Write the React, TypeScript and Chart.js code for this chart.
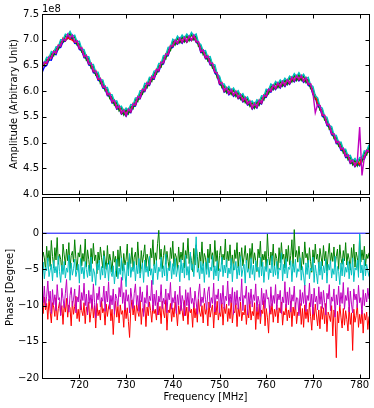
import React, { useEffect, useRef } from "react";
import { Chart, registerables } from "chart.js";

Chart.register(...registerables);

// Sample grids (MHz)
const FREQ_START = 712;
const AMP_STEP = 0.5;
const AMP_COUNT = 141;
const PHASE_STEP = 0.25;
const PHASE_COUNT = 281;
const freqAmp = Array.from({ length: AMP_COUNT }, (_, i) => FREQ_START + i * AMP_STEP);
const freqPhase = Array.from({ length: PHASE_COUNT }, (_, i) => FREQ_START + i * PHASE_STEP);
const freqEnds = [712, 782];

const xTickValues = [720, 730, 740, 750, 760, 770, 780];
const ampTickValues = [4.0, 4.5, 5.0, 5.5, 6.0, 6.5, 7.0, 7.5];
const phaseTickValues = [-20, -15, -10, -5, 0, 5];
const phaseTickLabels = ["\u221220", "\u221215", "\u221210", "\u22125", "0", ""];

// Amplitude (units of 1e8), 0.5 MHz steps
const ampBlue = [
  6.36, 6.47, 6.50, 6.61, 6.60, 6.72, 6.71, 6.84, 6.85, 6.96,
  6.97, 7.06, 7.01, 7.04, 6.93, 6.92, 6.81, 6.79, 6.65, 6.64,
  6.51, 6.49, 6.36, 6.34, 6.21, 6.19, 6.06, 6.04, 5.91, 5.90,
  5.77, 5.77, 5.65, 5.66, 5.55, 5.58, 5.51, 5.60, 5.58, 5.70,
  5.71, 5.84, 5.85, 5.98, 5.99, 6.11, 6.11, 6.23, 6.23, 6.37,
  6.38, 6.51, 6.53, 6.67, 6.69, 6.83, 6.85, 6.94, 6.91, 6.98,
  6.93, 7.00, 6.95, 7.02, 6.98, 7.04, 6.95, 6.91, 6.75, 6.75,
  6.63, 6.63, 6.51, 6.49, 6.35, 6.30, 6.13, 6.11, 5.98, 6.01,
  5.93, 5.98, 5.90, 5.94, 5.85, 5.88, 5.79, 5.82, 5.73, 5.75,
  5.65, 5.71, 5.67, 5.77, 5.75, 5.87, 5.88, 5.99, 5.98, 6.07,
  6.03, 6.11, 6.06, 6.14, 6.09, 6.17, 6.13, 6.22, 6.18, 6.25,
  6.20, 6.25, 6.17, 6.21, 6.11, 6.09, 5.93, 5.88, 5.71, 5.67,
  5.51, 5.48, 5.33, 5.30, 5.15, 5.12, 4.98, 4.97, 4.85, 4.84,
  4.71, 4.71, 4.59, 4.61, 4.53, 4.59, 4.55, 4.67, 4.68, 4.80,
  4.82,
];
const ampGreen = [
  6.52, 6.50, 6.62, 6.60, 6.73, 6.69, 6.84, 6.81, 6.97, 6.95,
  7.08, 7.02, 7.13, 7.01, 7.06, 6.90, 6.93, 6.76, 6.78, 6.60,
  6.64, 6.45, 6.49, 6.31, 6.34, 6.15, 6.19, 6.01, 6.04, 5.86,
  5.90, 5.73, 5.78, 5.62, 5.68, 5.54, 5.64, 5.56, 5.71, 5.66,
  5.84, 5.80, 5.98, 5.94, 6.12, 6.07, 6.24, 6.19, 6.36, 6.33,
  6.51, 6.47, 6.66, 6.63, 6.82, 6.79, 6.98, 6.90, 7.04, 6.94,
  7.06, 6.96, 7.08, 6.98, 7.11, 7.00, 7.08, 6.87, 6.88, 6.71,
  6.76, 6.59, 6.64, 6.45, 6.48, 6.26, 6.26, 6.07, 6.11, 5.97,
  6.06, 5.94, 6.03, 5.90, 5.98, 5.84, 5.92, 5.78, 5.86, 5.71,
  5.78, 5.67, 5.80, 5.73, 5.88, 5.83, 6.01, 5.95, 6.11, 6.03,
  6.16, 6.07, 6.19, 6.10, 6.22, 6.13, 6.26, 6.18, 6.31, 6.21,
  6.33, 6.21, 6.30, 6.17, 6.24, 6.05, 6.06, 5.84, 5.84, 5.63,
  5.64, 5.44, 5.46, 5.26, 5.28, 5.08, 5.11, 4.93, 4.98, 4.80,
  4.84, 4.67, 4.72, 4.57, 4.66, 4.55, 4.68, 4.63, 4.81, 4.76,
  4.93,
];
const ampRed = [
  6.44, 6.55, 6.54, 6.67, 6.64, 6.78, 6.74, 6.90, 6.88, 7.03,
  6.98, 7.04, 7.01, 6.99, 6.95, 6.97, 6.83, 6.85, 6.67, 6.70,
  6.53, 6.55, 6.38, 6.40, 6.23, 6.25, 6.08, 6.10, 5.93, 5.96,
  5.79, 5.83, 5.67, 5.72, 5.57, 5.64, 5.53, 5.66, 5.60, 5.76,
  5.73, 5.90, 5.87, 6.04, 6.01, 6.17, 6.13, 6.29, 6.25, 6.43,
  6.40, 6.57, 6.55, 6.73, 6.71, 6.89, 6.87, 6.99, 6.93, 7.03,
  6.95, 7.05, 6.96, 7.07, 6.99, 7.08, 6.96, 6.96, 6.77, 6.80,
  6.65, 6.69, 6.53, 6.55, 6.37, 6.36, 6.15, 6.17, 6.00, 6.07,
  5.95, 6.03, 5.92, 6.00, 5.87, 5.94, 5.81, 5.88, 5.75, 5.81,
  5.67, 5.77, 5.69, 5.83, 5.77, 5.93, 5.90, 6.04, 6.00, 6.12,
  6.05, 6.16, 6.08, 6.19, 6.11, 6.22, 6.15, 6.27, 6.20, 6.30,
  6.22, 6.30, 6.19, 6.26, 6.13, 6.14, 5.95, 5.93, 5.73, 5.72,
  5.53, 5.53, 5.35, 5.35, 5.17, 5.17, 5.00, 5.02, 4.87, 4.89,
  4.73, 4.76, 4.61, 4.66, 4.55, 4.64, 4.57, 4.72, 4.70, 4.85,
  4.82,
];
const ampCyan = [
  6.57, 6.55, 6.66, 6.65, 6.77, 6.75, 6.86, 6.87, 7.00, 7.00,
  7.11, 7.09, 7.16, 7.07, 7.09, 6.96, 6.97, 6.82, 6.81, 6.67,
  6.67, 6.52, 6.52, 6.37, 6.37, 6.22, 6.22, 6.07, 6.07, 5.93,
  5.93, 5.80, 5.81, 5.69, 5.71, 5.61, 5.67, 5.63, 5.74, 5.73,
  5.87, 5.87, 6.01, 6.01, 6.15, 6.14, 6.27, 6.26, 6.39, 6.40,
  6.54, 6.54, 6.69, 6.70, 6.85, 6.86, 7.01, 6.97, 7.07, 7.01,
  7.09, 7.03, 7.11, 7.05, 7.14, 7.07, 7.11, 6.94, 6.91, 6.78,
  6.79, 6.66, 6.67, 6.52, 6.51, 6.33, 6.29, 6.14, 6.14, 6.04,
  6.09, 6.01, 6.06, 5.97, 6.01, 5.91, 5.95, 5.85, 5.89, 5.78,
  5.81, 5.74, 5.83, 5.80, 5.91, 5.90, 6.04, 6.02, 6.14, 6.10,
  6.19, 6.14, 6.22, 6.17, 6.25, 6.20, 6.29, 6.25, 6.34, 6.28,
  6.36, 6.28, 6.33, 6.24, 6.27, 6.12, 6.09, 5.91, 5.87, 5.70,
  5.67, 5.51, 5.49, 5.33, 5.31, 5.15, 5.14, 5.00, 5.01, 4.87,
  4.87, 4.74, 4.75, 4.64, 4.69, 4.62, 4.71, 4.70, 4.84, 4.83,
  4.96,
];
const ampMagenta = [
  6.45, 6.57, 6.55, 6.66, 6.65, 6.77, 6.75, 6.89, 6.89, 7.01,
  6.99, 7.11, 7.03, 7.09, 6.96, 6.98, 6.84, 6.84, 6.68, 6.69,
  6.54, 6.54, 6.39, 6.39, 6.24, 6.24, 6.09, 6.09, 5.94, 5.95,
  5.80, 5.82, 5.68, 5.71, 5.58, 5.63, 5.54, 5.65, 5.61, 5.75,
  5.74, 5.89, 5.88, 6.03, 6.02, 6.16, 6.14, 6.28, 6.26, 6.42,
  6.41, 6.56, 6.56, 6.72, 6.72, 6.88, 6.88, 6.99, 6.94, 7.03,
  6.96, 7.05, 6.97, 7.07, 7.00, 7.09, 6.97, 6.96, 6.78, 6.80,
  6.66, 6.68, 6.54, 6.54, 6.38, 6.35, 6.16, 6.16, 6.01, 6.06,
  5.96, 6.03, 5.93, 5.99, 5.88, 5.93, 5.82, 5.87, 5.76, 5.80,
  5.68, 5.76, 5.70, 5.82, 5.78, 5.92, 5.91, 6.04, 6.01, 6.12,
  6.06, 6.16, 6.09, 6.19, 6.12, 6.22, 6.16, 6.27, 6.21, 6.30,
  6.23, 6.30, 6.20, 6.26, 6.14, 6.14, 5.96, 5.58, 5.74, 5.72,
  5.54, 5.53, 5.36, 5.35, 5.18, 5.17, 5.01, 5.02, 4.88, 4.89,
  4.74, 4.76, 4.62, 4.66, 4.56, 4.64, 5.30, 4.36, 4.71, 4.85,
  4.83,
];

// Phase (degrees), 0.25 MHz steps
const phaseBlue = [0, 0];
const phaseGreen = [
  -4.1, -2.6, -3.4, -5.0, -1.8, -3.9, -2.4, -4.6, -1.0, -3.2, -4.8, -2.0, -3.7, -0.6, -4.3, -2.9, -3.6, -5.2, -1.5, -3.0,
  -4.4, -2.2, -3.8, -1.3, -4.9, -3.1, -2.5, -4.0, -0.9, -3.5, -5.1, -2.7, -3.3, -1.6, -4.5, -2.8, -3.9, -0.8, -4.7, -2.3,
  -3.6, -5.3, -2.1, -4.2, -1.4, -3.8, -3.0, -5.6, -2.6, -4.1, -1.9, -3.4, -4.8, -2.4, -3.7, -5.0, -1.7, -4.3, -2.9, -3.9,
  -5.4, -2.5, -4.0, -3.2, -6.0, -2.3, -4.6, -1.8, -3.5, -5.2, -2.8, -4.4, -3.6, -1.5, -5.0, -3.1, -4.2, -2.0, -4.9, -3.3,
  -2.6, -4.7, -1.2, -3.9, -5.5, -2.4, -4.1, -3.0, -1.6, -4.8, -2.9, -3.7, -5.2, -2.1, -3.4, -0.9, -4.5, -2.7, -3.8, -1.4,
  0.4, -3.6, -2.2, -4.9, -3.1, -1.7, -4.3, -2.5, -3.9, -5.1, -2.0, -3.5, -1.1, -4.6, -2.8, -3.3, -5.0, -1.9, -4.0, -2.6,
  -3.7, -1.3, -4.8, -2.4, -3.5, -0.7, -4.2, -2.9, -3.8, -5.3, -2.1, -4.4, -1.6, -3.2, -4.9, -2.6, -3.9, -1.2, -4.5, -2.8,
  -3.4, -5.0, -2.2, -4.1, -1.5, -3.6, -2.7, -4.7, -1.0, -3.9, -2.4, -5.2, -3.1, -1.8, -4.3, -2.9, -3.7, -0.8, -4.6, -2.5,
  -3.8, -1.6, -4.4, -3.0, -5.1, -2.3, -3.5, -1.3, -4.8, -2.6, -3.9, -2.0, -4.5, -3.3, -1.7, -4.1, -2.8, -5.0, -2.1, -3.6,
  -1.4, -4.2, -2.7, -3.8, -5.3, -2.2, -3.4, -1.1, -4.6, -2.9, -3.7, -2.5, -4.9, -0.1, -3.2, -4.4, -2.6, -3.9, -1.5, -4.7,
  -2.8, -3.5, -5.0, -2.0, -4.1, -1.3, -3.6, -2.9, -4.8, -2.2, -3.9, -1.7, -4.4, -3.1, -0.9, -4.6, 0.5, -3.3, -2.4, -4.0,
  -1.8, -3.7, -5.1, -2.6, -4.3, -1.2, -3.4, -2.8, -4.7, -2.0, -3.9, -5.4, -2.3, -4.1, -1.5, -3.6, -2.9, -4.8, -2.1, -3.3,
  -4.5, -1.7, -3.8, -2.5, -5.2, -3.0, -1.4, -4.2, -2.7, -3.9, -1.9, -4.6, -3.2, -2.2, -5.0, -1.6, -3.5, -4.3, -2.4, -3.8,
  -1.3, -4.4, -2.8, -3.6, -5.1, -2.0, -3.9, -1.5, -4.7, -2.6, -3.4, -5.3, -0.2, -4.0, -2.3, -3.7, -1.8, -4.5, -2.9, -3.5,
  -2.7,
];
const phaseCyan = [
  -5.6, -4.0, -6.3, -4.7, -5.2, -3.4, -6.0, -5.1, -4.3, -6.6, -3.8, -5.5, -4.6, -6.1, -3.2, -5.3, -6.8, -4.4, -5.7, -3.9,
  -6.2, -4.8, -5.4, -3.0, -6.5, -4.1, -5.8, -4.9, -3.6, -6.0, -5.2, -4.3, -6.9, -3.5, -5.6, -4.7, -6.3, -3.9, -5.0, -6.1,
  -4.4, -5.9, -3.3, -6.7, -4.9, -5.5, -7.2, -4.2, -5.1, -3.7, -6.4, -4.6, -5.8, -3.1, -6.2, -5.0, -4.1, -6.6, -3.8, -5.4,
  -6.0, -4.5, -7.0, -5.2, -3.6, -6.3, -4.8, -5.7, -3.4, -6.5, -4.2, -5.5, -7.4, -4.0, -5.9, -2.8, -6.1, -4.7, -5.3, -3.9,
  -6.6, -4.4, -5.6, -3.5, -6.2, -5.0, -4.1, -6.8, -3.7, -5.4, -4.6, -6.0, -3.2, -5.8, -4.9, -7.1, -4.3, -5.5, -3.8, -6.4,
  -4.7, -5.3, -3.3, -6.1, -4.5, -5.9, -2.9, -6.6, -4.8, -5.2, -3.9, -6.3, -4.2, -5.7, -3.5, -6.0, -5.0, -4.4, -6.7, -3.6,
  -5.5, -4.1, -6.2, -3.0, -5.8, -4.6, -6.5, -2.6, -5.1, -4.3, -6.0, -3.7, -0.5, -5.4, -4.8, -6.3, -3.9, -5.6, -4.2, -6.8,
  -4.0, -5.7, -3.4, -6.1, -4.7, -5.2, -3.1, -6.4, -4.5, -5.9, -3.8, -6.6, -4.9, -5.3, -3.3, -6.0, -4.4, -5.5, -3.6, -6.2,
  -4.8, -5.6, -3.5, -6.7, -4.2, -5.1, -3.9, -6.3, -4.6, -5.8, -3.2, -6.0, -5.0, -4.3, -6.9, -3.7, -5.4, -4.9, -6.2, -3.4,
  -5.7, -4.4, -6.5, -3.8, -5.2, -4.7, -6.1, -3.3, -5.9, -4.0, -6.8, -4.6, -5.3, -3.6, -6.4, -4.9, -5.5, -3.1, -6.0, -4.5,
  -5.8, -3.9, -6.3, -4.8, -5.1, -2.7, -6.6, -4.3, -5.6, -3.5, -6.2, -4.7, -5.0, -3.8, -6.7, -4.2, -5.4, -3.6, -6.1, -4.9,
  -5.3, -3.4, -6.5, -4.6, -5.9, -7.3, -4.1, -5.7, -3.7, -6.3, -4.8, -5.2, -3.3, -6.8, -4.4, -5.6, -7.0, -4.0, -5.8, -3.9,
  -6.4, -4.5, -5.5, -3.6, -6.9, -4.3, -5.1, -3.8, -6.2, -4.9, -5.7, -3.2, -6.6, -4.6, -5.3, -7.1, -4.1, -5.9, -3.5, -6.0,
  -4.7, -5.4, -3.9, -6.3, -4.2, -5.8, -3.4, -6.7, -4.8, -5.1, -3.7, -6.1, -0.1, -5.5, -4.4, -6.5, -3.6, -5.9, -4.3, -5.2,
  -6.0,
];
const phaseMagenta = [
  -8.1, -9.6, -7.3, -10.2, -8.7, -6.6, -9.4, -8.0, -11.1, -7.8, -9.9, -8.5, -10.7, -7.1, -9.2, -8.9, -11.4, -7.6, -9.0, -10.3,
  -8.3, -6.4, -9.8, -10.9, -8.6, -7.5, -10.1, -9.1, -7.7, -11.0, -8.8, -9.5, -7.2, -10.6, -8.2, -9.3, -6.9, -10.0, -8.4, -11.3,
  -7.9, -9.7, -8.5, -10.4, -7.0, -9.6, -11.7, -8.3, -9.2, -7.4, -10.2, -8.9, -9.4, -7.3, -10.8, -8.0, -9.5, -6.7, -10.5, -8.6,
  -9.9, -7.7, -11.2, -8.4, -9.0, -10.1, -7.5, -8.8, -6.1, -9.7, -8.2, -10.6, -7.8, -9.4, -8.5, -11.0, -7.6, -9.1, -10.4, -8.3,
  -7.0, -9.9, -8.6, -10.8, -7.4, -9.5, -8.1, -11.5, -8.9, -9.7, -7.2, -10.2, -8.7, -9.3, -6.5, -10.7, -8.4, -10.0, -7.9, -11.3,
  -8.7, -9.5, -7.1, -10.4, -9.0, -9.8, -7.7, -11.0, -8.3, -9.2, -6.8, -10.5, -8.9, -9.6, -8.0, -11.1, -8.5, -9.9, -7.3, -10.7,
  -8.6, -9.4, -11.4, -7.8, -10.0, -8.2, -10.8, -7.5, -9.7, -9.0, -10.3, -8.0, -9.5, -11.2, -8.4, -7.0, -10.1, -8.8, -9.6, -7.6,
  -9.2, -10.6, -8.1, -7.4, -10.3, -8.9, -9.7, -6.9, -10.9, -8.5, -9.1, -7.7, -11.0, -8.3, -9.8, -7.2, -10.4, -8.7, -9.3, -6.6,
  -10.0, -8.4, -9.6, -7.5, -11.2, -8.1, -9.9, -7.9, -10.5, -8.8, -9.4, -6.3, -10.7, -8.6, -9.0, -7.3, -11.3, -8.2, -9.8, -7.7,
  -10.2, -8.5, -9.3, -7.0, -10.8, -8.7, -9.5, -11.5, -7.6, -9.9, -8.3, -10.4, -7.8, -9.1, -8.9, -11.0, -7.4, -10.1, -8.6, -9.7,
  -7.1, -10.6, -8.4, -9.2, -7.9, -11.1, -8.8, -9.6, -6.7, -10.3, -8.1, -9.9, -7.5, -10.9, -8.5, -9.4, -7.3, -10.5, -8.9, -9.0,
  -11.4, -7.8, -10.0, -8.2, -9.7, -7.2, -10.8, -8.6, -9.3, -6.9, -10.2, -8.4, -11.2, -7.6, -9.5, -8.7, -10.6, -7.4, -9.8, -8.1,
  -10.4, -7.9, -9.6, -11.3, -8.3, -9.1, -7.1, -10.7, -8.8, -9.4, -7.7, -11.6, -8.5, -9.9, -7.3, -10.1, -8.2, -9.7, -6.8, -10.5,
  -8.6, -9.3, -7.5, -10.9, -8.0, -9.8, -11.0, -7.7, -9.2, -8.4, -10.3, -7.2, -9.6, -8.9, -11.2, -7.8, -10.0, -8.3, -9.5, -7.6,
  -9.1,
];
const phaseRed = [
  -9.3, -11.1, -8.8, -10.6, -9.7, -11.9, -9.1, -10.8, -12.4, -9.6, -10.2, -11.5, -8.9, -12.0, -10.4, -9.5, -11.3, -10.0, -12.6, -9.8,
  -10.9, -9.0, -11.6, -9.9, -10.3, -12.8, -9.4, -11.2, -10.1, -8.7, -11.8, -10.5, -12.2, -9.2, -10.7, -11.4, -9.6, -12.5, -10.2, -11.0,
  -9.5, -12.3, -10.8, -9.1, -11.7, -10.0, -13.1, -9.7, -11.4, -10.6, -12.0, -9.3, -11.0, -10.4, -12.7, -9.8, -11.5, -10.2, -9.6, -12.1,
  -10.5, -14.0, -10.9, -9.4, -11.6, -10.1, -12.4, -9.9, -11.2, -10.7, -13.0, -9.5, -11.8, -10.3, -12.2, -14.4, -10.6, -9.2, -11.3, -10.0,
  -12.1, -9.7, -10.8, -11.5, -9.3, -12.6, -10.4, -11.0, -9.8, -12.9, -10.2, -11.4, -9.5, -10.7, -12.3, -9.9, -11.1, -10.5, -12.0, -9.6,
  -11.3, -10.1, -12.5, -9.4, -10.9, -11.7, -9.2, -13.4, -10.6, -11.0, -9.7, -12.2, -10.3, -11.6, -9.5, -10.8, -12.8, -10.0, -11.2, -9.9,
  -10.7, -12.1, -9.3, -11.4, -10.2, -12.6, -9.8, -11.0, -10.5, -13.0, -9.6, -11.7, -10.4, -12.3, -9.1, -10.9, -11.5, -10.0, -12.4, -9.7,
  -11.2, -10.3, -12.8, -9.5, -11.6, -10.6, -9.9, -13.1, -10.1, -11.3, -9.4, -12.0, -10.8, -11.5, -9.6, -12.7, -10.2, -11.1, -9.8, -12.2,
  -10.4, -11.8, -9.2, -12.4, -10.7, -11.0, -9.7, -12.9, -10.3, -11.5, -9.5, -12.1, -10.9, -11.3, -9.9, -12.6, -10.5, -11.7, -9.4, -12.0,
  -10.8, -11.4, -9.6, -13.3, -10.2, -11.9, -9.8, -12.5, -10.6, -11.1, -9.3, -12.8, -10.4, -11.6, -13.8, -10.0, -11.2, -9.7, -12.3, -10.5,
  -11.5, -9.9, -12.4, -10.3, -11.0, -9.5, -12.7, -10.8, -11.3, -9.8, -12.1, -10.6, -11.7, -9.4, -12.9, -10.2, -11.4, -9.6, -12.5, -10.9,
  -11.1, -9.7, -12.6, -10.4, -13.0, -9.9, -11.8, -10.5, -12.3, -9.6, -11.5, -13.4, -10.2, -12.0, -9.8, -11.3, -12.8, -10.6, -13.2, -10.1,
  -11.9, -10.3, -12.5, -9.7, -13.6, -10.9, -11.4, -12.2, -10.0, -14.2, -10.6, -11.7, -17.2, -10.8, -12.4, -9.9, -11.6, -13.1, -10.4, -12.7,
  -10.7, -11.9, -13.5, -10.2, -12.6, -11.0, -16.2, -10.5, -12.3, -11.4, -9.8, -13.0, -11.2, -12.5, -10.6, -13.8, -11.1, -12.0, -10.9, -13.3,
  -11.5,
];

const COLORS = {
  blue: "#0000ff",
  green: "#008000",
  red: "#ff0000",
  cyan: "#00bfbf",
  magenta: "#bf00bf",
};

const W = 374;
const H = 408;
const FONT = '10px "DejaVu Sans", sans-serif';

const pts = (xs: number[], ys: number[]) => ys.map((y, i) => ({ x: xs[i], y }));

type FrameCfg = {
  yTicks: number[];
  yLabels: string[];
  showXLabels: boolean;
  yTitle: string;
  yTitleX: number;
  offsetText?: string;
  xTitle?: string;
};

function framePlugin(cfg: FrameCfg) {
  return {
    id: "frame",
    afterDraw(chart: any) {
      const { ctx, chartArea: a, scales } = chart;
      const xs = scales.x;
      const ys = scales.y;
      ctx.save();
      ctx.strokeStyle = "#000";
      ctx.lineWidth = 1;
      const L = Math.round(a.left) + 0.5;
      const R = Math.round(a.right) + 0.5;
      const T = Math.round(a.top) + 0.5;
      const B = Math.round(a.bottom) + 0.5;
      ctx.strokeRect(L, T, R - L, B - T);
      ctx.beginPath();
      for (const v of xTickValues) {
        const px = Math.round(xs.getPixelForValue(v)) + 0.5;
        ctx.moveTo(px, B);
        ctx.lineTo(px, B - 4);
        ctx.moveTo(px, T);
        ctx.lineTo(px, T + 4);
      }
      for (const v of cfg.yTicks) {
        const py = Math.round(ys.getPixelForValue(v)) + 0.5;
        ctx.moveTo(L, py);
        ctx.lineTo(L + 4, py);
        ctx.moveTo(R, py);
        ctx.lineTo(R - 4, py);
      }
      ctx.stroke();

      ctx.fillStyle = "#000";
      ctx.font = FONT;
      ctx.textAlign = "right";
      ctx.textBaseline = "middle";
      cfg.yTicks.forEach((v, i) => {
        const lab = cfg.yLabels[i];
        if (!lab) return;
        ctx.fillText(lab, Math.round(a.left) - 3, ys.getPixelForValue(v));
      });
      if (cfg.showXLabels) {
        ctx.textAlign = "center";
        ctx.textBaseline = "middle";
        for (const v of xTickValues) {
          ctx.fillText(String(v), xs.getPixelForValue(v), a.bottom + 7);
        }
      }
      if (cfg.xTitle) {
        ctx.textAlign = "center";
        ctx.textBaseline = "middle";
        ctx.fillText(cfg.xTitle, (a.left + a.right) / 2, a.bottom + 19);
      }
      if (cfg.offsetText) {
        ctx.textAlign = "left";
        ctx.textBaseline = "alphabetic";
        ctx.fillText(cfg.offsetText, a.left, a.top - 2);
      }
      ctx.save();
      ctx.translate(cfg.yTitleX, (a.top + a.bottom) / 2);
      ctx.rotate(-Math.PI / 2);
      ctx.textAlign = "center";
      ctx.textBaseline = "middle";
      ctx.fillText(cfg.yTitle, 0, 0);
      ctx.restore();
      ctx.restore();
    },
  };
}

function lineDs(label: string, xs: number[], ys: number[], color: string, order: number, width: number) {
  return {
    label,
    data: pts(xs, ys),
    borderColor: color,
    backgroundColor: color,
    borderWidth: width,
    pointRadius: 0,
    tension: 0,
    fill: false,
    order,
  };
}

export default function App() {
  const topRef = useRef<HTMLCanvasElement>(null);
  const botRef = useRef<HTMLCanvasElement>(null);

  useEffect(() => {
    const common = (padding: any, yMin: number, yMax: number) => ({
      responsive: false,
      animation: false as const,
      devicePixelRatio: 1,
      layout: { padding },
      plugins: { legend: { display: false }, tooltip: { enabled: false }, title: { display: false } },
      scales: {
        x: { type: "linear" as const, min: 712, max: 782, display: false },
        y: { type: "linear" as const, min: yMin, max: yMax, display: false },
      },
    });

    const top = new Chart(topRef.current!, {
      type: "line",
      data: {
        datasets: [
          lineDs("b", freqAmp, ampBlue, COLORS.blue, 5, 1.4),
          lineDs("g", freqAmp, ampGreen, COLORS.green, 4, 1.4),
          lineDs("r", freqAmp, ampRed, COLORS.red, 3, 1.4),
          lineDs("c", freqAmp, ampCyan, COLORS.cyan, 2, 1.4),
          lineDs("m", freqAmp, ampMagenta, COLORS.magenta, 1, 1.4),
        ],
      },
      options: common({ left: 42, top: 14, right: W - 369, bottom: H - 194 }, 4.0, 7.5),
      plugins: [
        framePlugin({
          yTicks: ampTickValues,
          yLabels: ampTickValues.map((v) => v.toFixed(1)),
          showXLabels: false,
          yTitle: "Amplitude (Arbitrary Unit)",
          yTitleX: 14.5,
          offsetText: "1e8",
        }),
      ],
    } as any);

    const bot = new Chart(botRef.current!, {
      type: "line",
      data: {
        datasets: [
          lineDs("b", freqEnds, phaseBlue, COLORS.blue, 5, 1),
          lineDs("g", freqPhase, phaseGreen, COLORS.green, 4, 1),
          lineDs("r", freqPhase, phaseRed, COLORS.red, 3, 1),
          lineDs("c", freqPhase, phaseCyan, COLORS.cyan, 2, 1),
          lineDs("m", freqPhase, phaseMagenta, COLORS.magenta, 1, 1),
        ],
      },
      options: common({ left: 42, top: 197, right: W - 369, bottom: H - 378 }, -20, 5),
      plugins: [
        framePlugin({
          yTicks: phaseTickValues,
          yLabels: phaseTickLabels,
          showXLabels: true,
          yTitle: "Phase [Degree]",
          yTitleX: 10,
          xTitle: "Frequency [MHz]",
        }),
      ],
    } as any);

    return () => {
      top.destroy();
      bot.destroy();
    };
  }, []);

  const cs: React.CSSProperties = { position: "absolute", left: 0, top: 0, width: W, height: H };
  return (
    <div style={{ position: "fixed", left: 0, top: 0, width: W, height: H, background: "#fff" }}>
      <canvas ref={topRef} width={W} height={H} style={cs} />
      <canvas ref={botRef} width={W} height={H} style={cs} />
    </div>
  );
}
